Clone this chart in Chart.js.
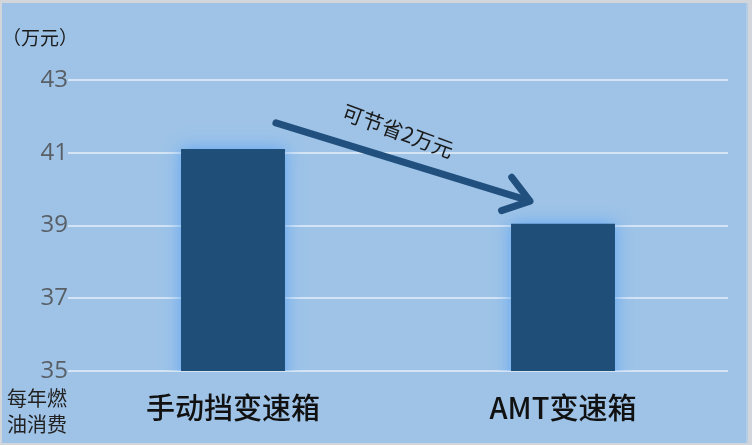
<!DOCTYPE html>
<html><head><meta charset="utf-8">
<script src="https://cdn.jsdelivr.net/npm/chart.js@4/dist/chart.umd.min.js"></script>
<style>
html,body{margin:0;padding:0;background:#d2d6db;}
#wrap{width:752px;height:445px;position:relative;}
canvas{display:block;}
</style></head>
<body><div id="wrap"><canvas id="c" width="752" height="445"></canvas></div>
<script>
const categories = ['手动挡变速箱', 'AMT变速箱'];
const fuelCost = [41.1, 39.05];
const yTicks = [35, 37, 39, 41, 43];
const unitLabel = '（万元）';
const axisNoteLines = ['每年燃', '油消费'];
const arrowFrom = [0.13, 41.82];
const arrowTo = [0.9, 39.67];
const savingText = '可节省2万元';
const savingAt = [0.5, 41.6];

const bgPlugin = {
  id: 'bg',
  beforeDraw(chart) {
    const ctx = chart.ctx;
    ctx.save();
    ctx.fillStyle = '#d2d6db';
    ctx.fillRect(0, 0, chart.width, chart.height);
    ctx.fillStyle = '#9ec3e7';
    ctx.fillRect(2, 3, chart.width - 8, chart.height - 5);
    ctx.fillStyle = '#b3cde6';
    ctx.fillRect(chart.width - 6, 3, 2, chart.height - 5);
    ctx.restore();
  }
};

const glowPlugin = {
  id: 'glow',
  beforeDatasetDraw(chart) {
    const ctx = chart.ctx;
    ctx.save();
    ctx.shadowColor = 'rgba(95,165,245,1)';
    ctx.shadowBlur = 16;
    ctx.shadowOffsetX = 0;
    ctx.shadowOffsetY = 0;
  },
  afterDatasetDraw(chart) {
    chart.ctx.restore();
  }
};

const notePlugin = {
  id: 'notes',
  afterDatasetsDraw(chart) {
    const ctx = chart.ctx;
    const xs = chart.scales.x, ys = chart.scales.y;
    const px = v => xs.getPixelForValue(0) + v * (xs.getPixelForValue(1) - xs.getPixelForValue(0));
    ctx.save();
    const x1 = px(arrowFrom[0]), y1 = ys.getPixelForValue(arrowFrom[1]);
    const x2 = px(arrowTo[0]), y2 = ys.getPixelForValue(arrowTo[1]);
    ctx.strokeStyle = '#21507f';
    ctx.lineWidth = 7;
    ctx.lineCap = 'round';
    ctx.lineJoin = 'round';
    ctx.beginPath();
    ctx.moveTo(x1, y1);
    ctx.lineTo(x2 - 3, y2 - 1);
    ctx.stroke();
    const ang = Math.atan2(y2 - y1, x2 - x1);
    const L = 30, w = 0.62;
    ctx.beginPath();
    ctx.moveTo(x2 - L * Math.cos(ang - w), y2 - L * Math.sin(ang - w));
    ctx.lineTo(x2, y2);
    ctx.lineTo(x2 - L * Math.cos(ang + w), y2 - L * Math.sin(ang + w));
    ctx.stroke();
    ctx.translate(px(savingAt[0]), ys.getPixelForValue(savingAt[1]));
    ctx.rotate(20 * Math.PI / 180);
    ctx.fillStyle = '#1a1a1a';
    ctx.font = '21px "Noto Sans CJK SC"';
    ctx.textAlign = 'center';
    ctx.textBaseline = 'middle';
    ctx.fillText(savingText, 0, 0);
    ctx.restore();
    ctx.save();
    ctx.fillStyle = '#1a1a1a';
    ctx.font = '19px "Noto Sans CJK SC"';
    ctx.textAlign = 'left';
    ctx.textBaseline = 'middle';
    ctx.fillText(unitLabel, 2, 38);
    ctx.fillStyle = '#222';
    ctx.font = '20px "Noto Sans CJK SC"';
    ctx.fillText(axisNoteLines[0], 7, 398);
    ctx.fillText(axisNoteLines[1], 7, 424);
    ctx.restore();
  }
};

new Chart(document.getElementById('c'), {
  type: 'bar',
  data: {
    labels: categories,
    datasets: [{
      data: fuelCost,
      backgroundColor: '#1f4e79',
      borderWidth: 0,
      categoryPercentage: 1,
      barPercentage: 0.315
    }]
  },
  options: {
    responsive: false,
    animation: false,
    devicePixelRatio: 1,
    layout: { padding: { top: 80, right: 24, left: 0, bottom: 0 } },
    plugins: { legend: { display: false }, tooltip: { enabled: false } },
    scales: {
      y: {
        min: 35, max: 43,
        afterBuildTicks(s) { s.ticks = yTicks.map(v => ({ value: v })); },
        afterFit(s) { s.width = 68; },
        border: { display: false },
        grid: { color: '#d4e4f4', lineWidth: 2, drawTicks: false },
        ticks: {
          crossAlign: 'center',
          padding: 0,
          color: '#595f66',
          font: { family: '"Open Sans"', size: 24 }
        }
      },
      x: {
        afterFit(s) { s.height = 74; },
        border: { display: false },
        grid: { display: false, drawTicks: false },
        ticks: {
          padding: 20,
          color: '#111',
          font: { family: '"Noto Sans CJK SC"', size: 29, weight: '500' }
        }
      }
    }
  },
  plugins: [bgPlugin, glowPlugin, notePlugin]
});
</script>
</body></html>
